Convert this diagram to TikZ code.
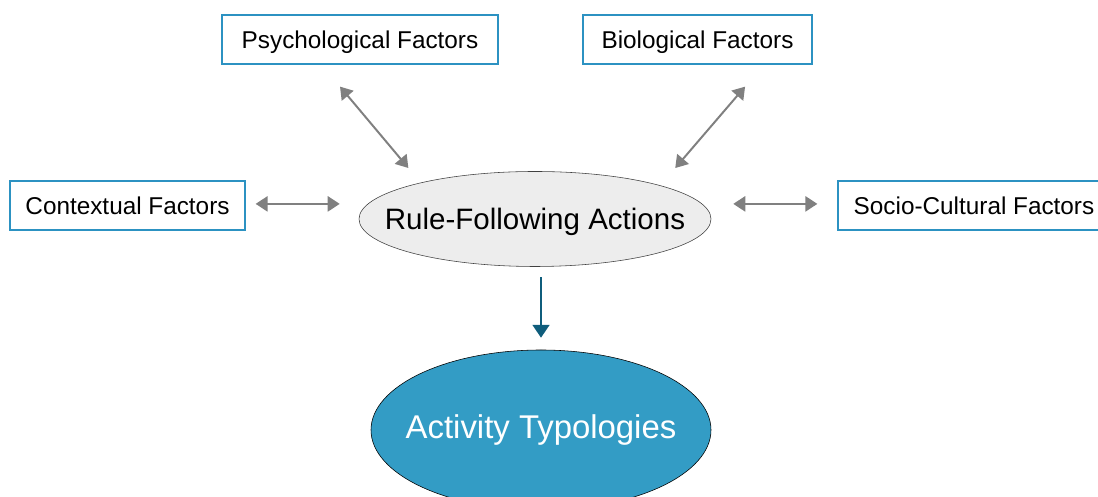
\documentclass[tikz,border=0pt]{standalone}
\usepackage{fontspec}
\setmainfont{Liberation Sans}
\usetikzlibrary{calc,arrows.meta,positioning,shapes.geometric}
\definecolor{boxblue}{HTML}{2C92C2}
\definecolor{tealx}{HTML}{339CC5}
\definecolor{deepteal}{HTML}{0F5D7C}
\definecolor{greyx}{HTML}{808080}
\definecolor{softbg}{HTML}{EDEDED}
\tikzset{
  ar/.style={{Triangle[length=3mm,width=3.8mm]}-{Triangle[length=3mm,width=3.8mm]},line width=1.4pt,greyx},
  dn/.style={-{Triangle[length=3.2mm,width=4.2mm]},line width=1.4pt,deepteal},
  box/.style={draw=boxblue,line width=0.9pt,fill=white,minimum height=1.225cm,inner sep=2pt,text depth=0pt,font=\fontsize{17.3}{20}\selectfont}
}
\begin{document}
\begin{tikzpicture}
\useasboundingbox (0,0) rectangle (27.45,12.425);
% factor boxes
\node[box,minimum width=6.9cm] (psych) at (9.0,11.4375) {Psychological Factors};
\node[box,minimum width=5.725cm] (bio) at (17.4375,11.4375) {Biological Factors};
\node[box,minimum width=5.875cm] (ctx) at (3.1875,7.2875) {Contextual Factors};
\node[box,minimum width=6.8cm] (socio) at (24.35,7.2875) {Socio-Cultural Factors};
% the two ellipses, text set as centre labels so the size stays fixed
\node[ellipse,draw=black!75,thin,fill=softbg,minimum width=8.8cm,minimum height=2.375cm,
  label={[font=\fontsize{21}{25}\selectfont,text depth=0pt]center:Rule-Following Actions}] (rfa) at (13.375,6.95) {};
\node[ellipse,draw=black,thin,fill=tealx,minimum width=8.5cm,minimum height=4cm,
  label={[font=\fontsize{23.4}{28}\selectfont,text=white]center:Activity Typologies}] (act) at (13.525,1.675) {};
% links
\draw[ar] ($(psych.south)+(-0.5,-0.55)$) -- ($(rfa.north west)+(-0.05,0.43)$);
\draw[ar] ($(bio.south)+(1.19,-0.55)$) -- ($(rfa.north east)+(0.39,0.43)$);
\draw[ar] ($(ctx.east)+(0.25,0.04)$) -- ($(ctx.east -| rfa.west)+(-0.475,0.04)$);
\draw[ar] ($(rfa.east |- socio.west)+(0.55,0.04)$) -- ($(socio.west)+(-0.5,0.04)$);
\draw[dn] ($(rfa.south -| act.north)+(0,-0.26)$) -- ($(act.north)+(0,0.3)$);
\end{tikzpicture}
\end{document}
